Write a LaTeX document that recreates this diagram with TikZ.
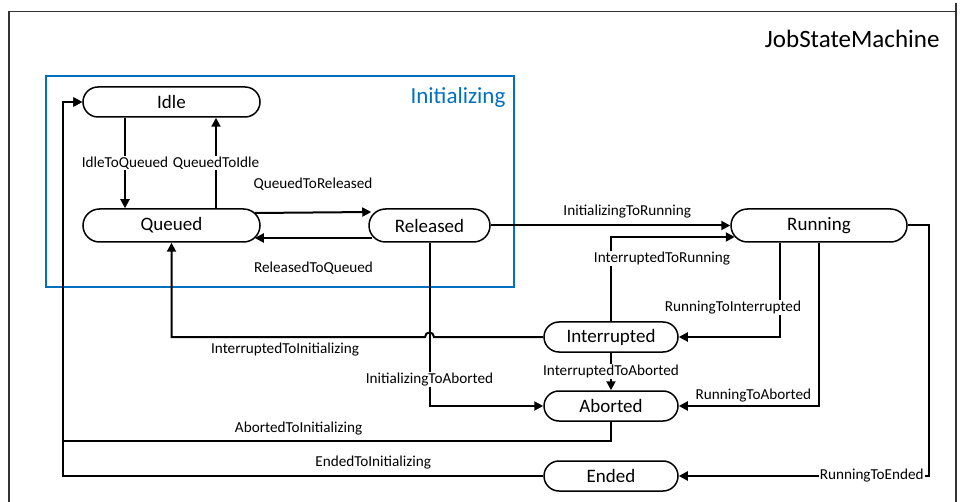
\documentclass[tikz,border=0pt]{standalone}
\usepackage{fontspec}
\setmainfont{Carlito}
\usetikzlibrary{arrows.meta}
\definecolor{vblue}{HTML}{0070C0}
\definecolor{frame}{HTML}{333333}
\begin{document}
\begin{tikzpicture}[x=1pt,y=-1pt,
  state/.style={draw=black, line width=1.5pt, fill=white, font=\fontsize{19}{21}\selectfont, inner sep=0pt},
  st30/.style={state, minimum height=30pt, rounded corners=15pt},
  st33/.style={state, minimum height=33pt, rounded corners=16.5pt},
  arr/.style={draw=black, line width=2pt, -{Triangle[length=9pt,width=9pt]}},
  lbl/.style={font=\fontsize{15.2}{17}\selectfont, inner sep=1pt, fill=white},
  initbox/.style={draw=vblue, line width=1.9pt, inner sep=0pt},
]
\useasboundingbox (0,0) rectangle (963,502);
% frame
\draw[frame, line width=1.6pt] (9,502) -- (9,11.5) -- (956,11.5);
\draw[frame, line width=1.6pt] (956,3) -- (956,502);
\node[anchor=east, font=\fontsize{25}{27}\selectfont] (title) at (943,39) {JobStateMachine};

% Initializing composite state
\node[initbox, minimum width=468pt, minimum height=211pt] (init) at (280,181.5) {};
\node[anchor=east, text=vblue, font=\fontsize{23}{25}\selectfont] (initlbl) at ([xshift=-6pt,yshift=-22pt]init.north east) {Initializing};

% states
\node[st30, minimum width=177pt] (idle) at (171.5,102) {Idle};
\node[st33, minimum width=177pt] (queued) at (171.5,225.5) {Queued};
\node[st33, minimum width=121pt] (released) at (429.5,225.5) {Released};
\node[st33, minimum width=176pt] (running) at (819,225.5) {Running};
\node[st30, minimum width=134pt] (interrupted) at (611,337) {Interrupted};
\node[st30, minimum width=134pt] (aborted) at (611,406) {Aborted};
\node[st30, minimum width=134pt] (ended) at (611,476) {Ended};

\coordinate (hop) at (released.south |- interrupted.west);
\coordinate (L1) at (63,441);

% transitions
\draw[arr] ([xshift=-46.5pt]idle.south) -- node[lbl]{IdleToQueued} ([xshift=-46.5pt]queued.north);
\draw[arr] ([xshift=44.5pt]queued.north) -- node[lbl]{QueuedToIdle} ([xshift=44.5pt]idle.south);
\draw[arr] ([xshift=-6pt,yshift=12.5pt]queued.east) -- node[lbl, yshift=28pt]{QueuedToReleased} ([xshift=3pt,yshift=13.5pt]released.west);
\draw[arr] ([xshift=4pt,yshift=-12.5pt]released.west) -- node[lbl, yshift=-30pt]{ReleasedToQueued} ([xshift=-6pt,yshift=-12.5pt]queued.east);
\draw[arr] (released.east) -- node[lbl, pos=0.57, yshift=13.5pt]{InitializingToRunning} (running.west);
\draw[arr] (interrupted.north) |- node[lbl, pos=0.37, xshift=51pt]{InterruptedToRunning} ([xshift=4.5pt,yshift=-11.5pt]running.west);
\draw[arr] ([xshift=-39pt]running.south) |- node[lbl, pos=0.342, xshift=-47pt]{RunningToInterrupted} (interrupted.east);
\draw[arr] (running.south) |- node[lbl, pos=0.734, yshift=10pt]{RunningToAborted} (aborted.east);
\draw[arr] (running.east) -- ++(21,0) |- node[lbl, pos=0.614]{RunningToEnded} (ended.east);
\draw[arr] (interrupted.south) -- node[lbl]{InterruptedToAborted} (aborted.north);
\draw[arr] (interrupted.west) -- ([xshift=4.5pt]hop) .. controls ([xshift=4.5pt,yshift=6pt]hop) and ([xshift=-4.5pt,yshift=6pt]hop) .. ([xshift=-4.5pt]hop) -| node[lbl, pos=0.276, yshift=-13pt]{InterruptedToInitializing} (queued.south);
\draw[arr] (released.south) |- node[lbl, pos=0.42]{InitializingToAborted} (aborted.west);
\draw[arr] (aborted.south) |- node[lbl, pos=0.785, yshift=12pt]{AbortedToInitializing} (L1) |- (idle.west);
\draw[arr] (ended.west) -| node[lbl, pos=0.177, yshift=13pt]{EndedToInitializing} (L1) |- (idle.west);
\end{tikzpicture}
\end{document}
